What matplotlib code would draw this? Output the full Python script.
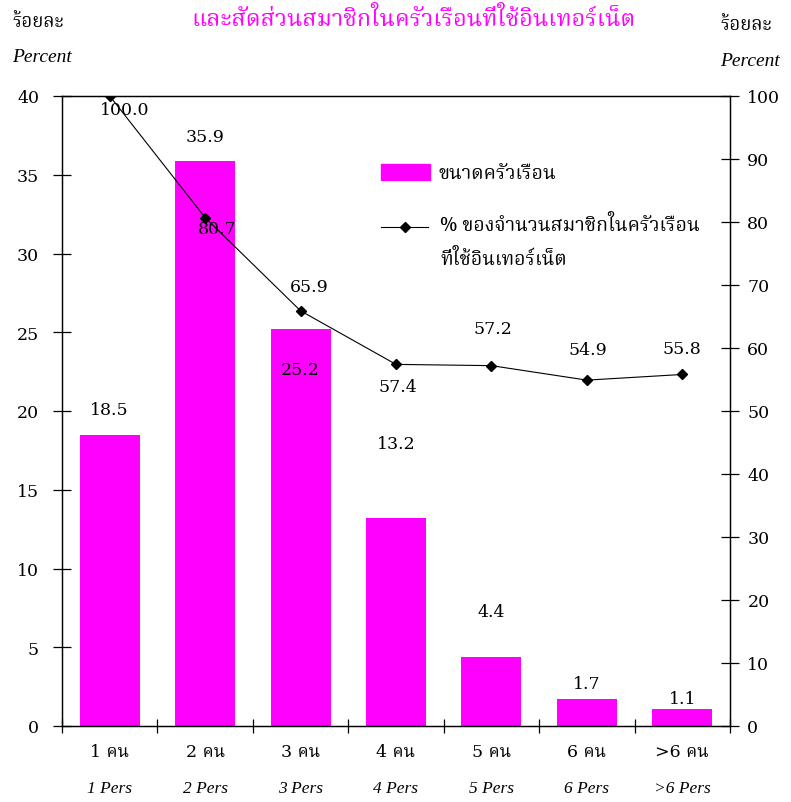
import matplotlib
matplotlib.use("Agg")
import matplotlib.pyplot as plt
from matplotlib import font_manager
from matplotlib.lines import Line2D

# ---------------- data ----------------
categories_th = ["1 คน", "2 คน", "3 คน", "4 คน", "5 คน", "6 คน", ">6 คน"]
categories_en = ["1 Pers", "2 Pers", "3 Pers", "4 Pers", "5 Pers", "6 Pers", ">6 Pers"]
household_size = [18.5, 35.9, 25.2, 13.2, 4.4, 1.7, 1.1]
internet_members = [100.0, 80.7, 65.9, 57.4, 57.2, 54.9, 55.8]

title = "และสัดส่วนสมาชิกในครัวเรือนที่ใช้อินเทอร์เน็ต"
legend_bar = "ขนาดครัวเรือน"
legend_line = "% ของจำนวนสมาชิกในครัวเรือน\nที่ใช้อินเทอร์เน็ต"
unit_th = "ร้อยละ"
unit_en = "Percent"

# label offsets (pixels) - styling only
bar_label_dy = [25, 24, -40, 75, 45, 16, 10]
line_label_off = [(15, -14), (12, -11), (9, 24), (2, -22), (2, 37), (1, 31), (0, 26)]

# ---------------- fonts ----------------
def find_thai_font():
    try:
        from fontTools.ttLib import TTFont
    except Exception:
        return None
    prefs = ["Noto Serif Thai", "Noto Sans Thai", "Loma", "Garuda", "Norasi", "Kinnari",
             "Tlwg", "Sarabun", "Waree", "Laksaman", "DejaVu Sans", "FreeSerif", "FreeSans"]
    found = []
    for f in font_manager.fontManager.ttflist:
        try:
            tt = TTFont(f.fname, fontNumber=0, lazy=True)
            cmap = tt.getBestCmap()
            if cmap and 0x0E04 in cmap and 0x0E40 in cmap and 0x0E34 in cmap:
                found.append(f)
        except Exception:
            pass
    if not found:
        return None
    def rank(f):
        for i, p in enumerate(prefs):
            if p.lower() in f.name.lower():
                return (i, f.style != "normal", f.weight != 400)
        return (len(prefs), f.style != "normal", f.weight != 400)
    found.sort(key=rank)
    return found[0].name

thai = find_thai_font()
thai_fam = [thai, "DejaVu Sans"] if thai else ["DejaVu Sans"]
num_fam = ["DejaVu Serif"]
ital_fam = ["Liberation Serif"]

plt.rcParams["font.family"] = num_fam

MAGENTA = "#FF00FF"

fig = plt.figure(figsize=(7.91, 8.03), dpi=100)
ax = fig.add_axes([62/791, 1-727/803, (730-62)/791, (727-97)/803])
ax2 = ax.twinx()

x = list(range(len(categories_th)))
ax.bar(x, household_size, width=0.63, color=MAGENTA, zorder=2)
ax.set_xlim(-0.5, len(x) - 0.5)
ax.set_ylim(0, 40)
ax.set_yticks(range(0, 41, 5))
ax2.set_ylim(0, 100)
ax2.set_yticks(range(0, 101, 10))

ax2.plot(x, internet_members, color="black", lw=0.8, marker="D", ms=5.5, zorder=3)

# ticks
ax.set_xticks([i - 0.5 for i in range(len(x) + 1)])
ax.set_xticklabels([])
ax.tick_params(axis="x", direction="inout", length=10, width=0.9)
ax.tick_params(axis="y", direction="inout", length=13, width=0.9, labelsize=12.5, pad=10)
ax2.tick_params(axis="y", direction="inout", length=13, width=0.9, labelsize=12.5, pad=6)
for lab in ax.get_yticklabels() + ax2.get_yticklabels():
    lab.set_fontfamily(num_fam)
for a in (ax, ax2):
    for s in a.spines.values():
        s.set_linewidth(0.9)

# category labels
for i in x:
    ax.annotate(categories_th[i], xy=(i, 0), xycoords=("data", "axes fraction"),
                xytext=(0, -26), textcoords="offset pixels", ha="center", va="center",
                fontsize=12.5, family=num_fam + thai_fam)
    ax.annotate(categories_en[i], xy=(i, 0), xycoords=("data", "axes fraction"),
                xytext=(0, -62), textcoords="offset pixels", ha="center", va="center",
                fontsize=12.5, family=ital_fam, style="italic")

# bar value labels
for i, v in enumerate(household_size):
    ax.annotate(f"{v:.1f}", xy=(i, v), xytext=(0, bar_label_dy[i]), textcoords="offset pixels",
                ha="center", va="center", fontsize=12.5, family=num_fam, zorder=4)

# line value labels
for i, v in enumerate(internet_members):
    dx, dy = line_label_off[i]
    ax2.annotate(f"{v:.1f}", xy=(i, v), xytext=(dx, dy), textcoords="offset pixels",
                 ha="center", va="center", fontsize=12.5, family=num_fam, zorder=4)

# title & units
fig.text(413/791, 1-20/803, title, ha="center", va="center", color=MAGENTA,
         fontsize=16.8, family=thai_fam)
fig.text(12/791, 1-22/803, unit_th, ha="left", va="center", fontsize=13.5, family=thai_fam)
fig.text(12/791, 1-58/803, unit_en, ha="left", va="center", fontsize=14,
         family=ital_fam, style="italic")
fig.text(720/791, 1-25/803, unit_th, ha="left", va="center", fontsize=13.5, family=thai_fam)
fig.text(720/791, 1-61/803, unit_en, ha="left", va="center", fontsize=14,
         family=ital_fam, style="italic")

# legend (manual)
fig.patches.append(matplotlib.patches.Rectangle((381/791, 1-181/803), 49/791, 16/803,
                   transform=fig.transFigure, color=MAGENTA, figure=fig))
fig.text(438/791, 1-174/803, legend_bar, ha="left", va="center", fontsize=14, family=thai_fam)
fig.lines.append(Line2D([381/791, 428/791], [1-228/803, 1-228/803], transform=fig.transFigure,
                        color="black", lw=0.8, figure=fig))
fig.lines.append(Line2D([404.5/791], [1-228/803], transform=fig.transFigure,
                        color="black", marker="D", ms=5.5, figure=fig))
fig.text(440/791, 1-226/803, legend_line.split("\n")[0], ha="left", va="center", fontsize=14,
         family=thai_fam)
fig.text(440/791, 1-260/803, legend_line.split("\n")[1], ha="left", va="center", fontsize=14,
         family=thai_fam)

fig.savefig("out.png", dpi=100)
